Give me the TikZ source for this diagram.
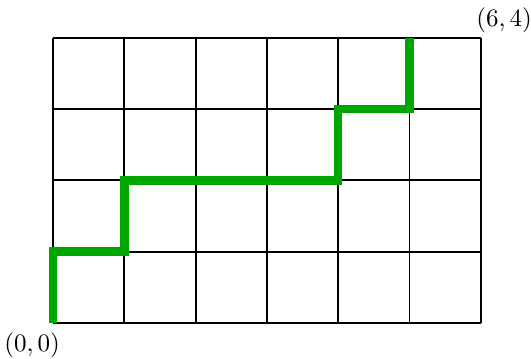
\documentclass[tikz,border=0pt]{standalone}
\usetikzlibrary{positioning}

\begin{document}
\begin{tikzpicture}[
    gridline/.style={black, line width=0.75pt},
    route/.style={green!65!black, line width=3.4pt},
    corner/.style={font=\normalsize, inner sep=2pt}
]
\useasboundingbox (-0.743,-0.491) rectangle (6.704,4.53);

% ============ GRID ============
\foreach \x in {0,...,6} {
    \draw[gridline] (\x,0) -- (\x,4);
}
\foreach \y in {0,...,4} {
    \draw[gridline] (0,\y) -- (6,\y);
}

% Corner points
\coordinate (origin) at (0,0);
\coordinate (far) at (6,4);
\node[corner, below left=1.5pt and -5pt of origin] (lorigin) {$(0,0)$};
\node[corner, above right=0pt and -4pt of far] (lfar) {$(6,4)$};

% ============ LATTICE PATH ============
\coordinate (p0) at (0,0);
\coordinate (p1) at (0,1);
\coordinate (p2) at (1,1);
\coordinate (p3) at (1,2);
\coordinate (p4) at (4,2);
\coordinate (p5) at (4,3);
\coordinate (p6) at (5,3);
\coordinate (p7) at (5,4);
\draw[route] (p0) -- (p1) -- (p2) -- (p3) -- (p4) -- (p5) -- (p6) -- (p7);

\end{tikzpicture}
\end{document}
